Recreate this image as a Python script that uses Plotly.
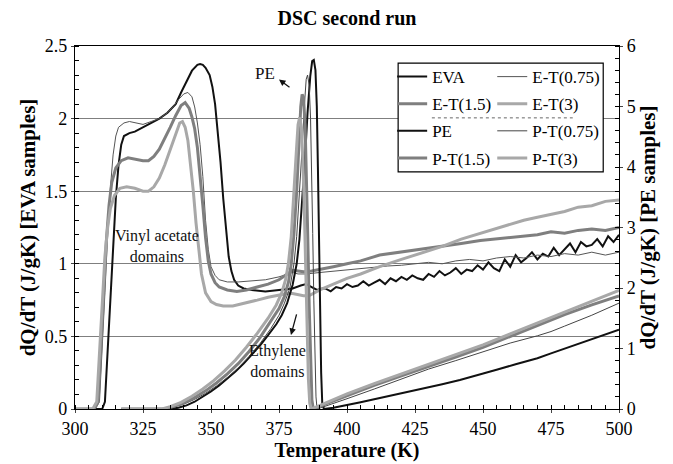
import plotly.graph_objects as go

# ---------------- data ----------------
# EVA family (left axis, J/gK)
eva_T = [300, 308, 310, 311, 312, 313, 314, 315, 316, 317, 318, 320, 322, 325, 328, 331, 334, 337, 339, 341,
         343, 345, 346, 347, 348, 349.5, 350.5, 351.5, 352.5, 353.5, 354.5, 355.5, 356.5, 357.5, 358.5, 360,
         362, 365, 370, 375, 380, 383, 385, 387, 389, 391,
         392, 394, 396, 398, 400, 402, 404, 406, 408, 410, 412, 414, 416, 418, 420, 422, 424, 426, 428, 430,
         432, 434, 436, 438, 440, 442, 444, 446, 448, 450, 452, 454, 456, 458, 460, 462, 464, 466, 468, 470,
         472, 474, 476, 478, 480, 482, 484, 486, 488, 490, 492, 494, 496, 498, 500]
eva_Y = [0, 0, 0, 0.05, 0.4, 0.8, 1.15, 1.45, 1.68, 1.82, 1.88, 1.9, 1.91, 1.94, 1.97, 2.0, 2.04, 2.1, 2.18, 2.26,
         2.33, 2.37, 2.375, 2.37, 2.35, 2.3, 2.22, 2.1, 1.92, 1.7, 1.45, 1.22, 1.05, 0.95, 0.89, 0.85,
         0.83, 0.82, 0.81, 0.82, 0.83, 0.85, 0.86, 0.84, 0.82, 0.83,
         0.83, 0.81, 0.84, 0.83, 0.86, 0.84, 0.85, 0.88, 0.85, 0.87, 0.89, 0.86, 0.90, 0.88, 0.91, 0.89, 0.92, 0.90, 0.89, 0.93,
         0.91, 0.95, 0.92, 0.94, 0.97, 0.93, 0.96, 0.95, 0.99, 0.96, 1.01, 0.97, 0.95, 1.03, 0.98, 1.06, 1.01, 1.04, 1.08, 1.03,
         1.07, 1.05, 1.11, 1.06, 1.10, 1.14, 1.08, 1.15, 1.12, 1.13, 1.17, 1.12, 1.19, 1.15, 1.20]

et075_T = [300, 307.5, 309, 310, 311, 312, 313, 314, 315, 316, 318, 320, 322, 325, 328, 331, 334, 336, 338, 340,
           341.5, 343, 344, 345, 346, 347, 348, 349, 350, 351.5, 353, 356, 360, 365, 370, 375, 378, 380, 382, 385,
           390, 395, 400, 405, 410, 415, 420, 425, 430, 435, 440, 445, 450, 455, 460, 465, 470, 475, 480, 485,
           490, 495, 500]
et075_Y = [0, 0, 0.05, 0.4, 0.8, 1.2, 1.52, 1.75, 1.88, 1.94, 1.97, 1.98, 1.97, 1.96, 1.98, 2.0, 2.04, 2.08, 2.13, 2.17,
           2.18, 2.15, 2.08, 1.97, 1.82, 1.6, 1.3, 1.1, 0.98, 0.92, 0.89, 0.875, 0.875, 0.88, 0.89, 0.91, 0.93, 0.94, 0.93, 0.93,
           0.94, 0.95, 0.96, 0.97, 0.98, 0.985, 0.99, 1.0, 1.01, 1.0, 1.02, 1.03, 1.02, 1.04, 1.05, 1.04, 1.06, 1.05, 1.07, 1.06,
           1.08, 1.06, 1.08]

et15_T = [300, 307, 308.5, 309.5, 310.5, 311.5, 312.5, 313.5, 315, 317, 319.5, 322, 325, 327, 329, 331, 333, 335,
          337, 339, 340.5, 342, 343, 344, 345, 346, 347, 348, 349, 350, 351.5, 353, 356, 359.5, 363, 367, 371,
          375, 378, 380, 382, 384, 387, 390, 395, 400, 405, 412, 420, 428, 435, 442, 449, 455, 460, 465, 470,
          475, 480, 485, 490, 495, 500]
et15_Y = [0, 0, 0.05, 0.4, 0.8, 1.15, 1.4, 1.56, 1.66, 1.71, 1.73, 1.72, 1.71, 1.71, 1.74, 1.79, 1.86, 1.94,
          2.02, 2.09, 2.11, 2.07, 2.01, 1.93, 1.8, 1.62, 1.4, 1.18, 1.02, 0.93, 0.87, 0.84, 0.82, 0.81, 0.82, 0.84, 0.86,
          0.89, 0.93, 0.955, 0.95, 0.945, 0.95, 0.96, 0.98, 1.0, 1.02, 1.06, 1.08, 1.1, 1.12, 1.14, 1.16, 1.17, 1.18, 1.19, 1.2,
          1.22, 1.21, 1.23, 1.24, 1.23, 1.25]

et3_T = [300, 306.5, 308, 309, 310, 311, 312, 313, 314.5, 316.5, 319, 322, 325, 327, 329, 331, 333, 335, 337,
         338.5, 339.5, 340.5, 341.5, 342.5, 343.5, 344.5, 345.5, 346.5, 348, 350, 352, 354.5, 358, 363, 367, 371,
         375, 378, 380, 382, 384, 386, 390, 395, 400, 405, 412, 420, 428, 435, 442, 449, 455, 460, 465, 470,
         475, 480, 485, 490, 495, 500]
et3_Y = [0, 0, 0.05, 0.4, 0.75, 1.05, 1.25, 1.38, 1.47, 1.52, 1.53, 1.52, 1.5, 1.5, 1.53, 1.59, 1.68, 1.79, 1.9,
         1.97, 1.98, 1.94, 1.85, 1.68, 1.5, 1.28, 1.08, 0.93, 0.8, 0.74, 0.72, 0.71, 0.71, 0.73, 0.75, 0.77,
         0.785, 0.795, 0.795, 0.785, 0.78, 0.78, 0.82, 0.86, 0.9, 0.93, 0.98, 1.03, 1.08, 1.12, 1.17, 1.21, 1.24, 1.27, 1.3, 1.32,
         1.34, 1.36, 1.39, 1.40, 1.43, 1.44]

# PE family (right axis, J/gK)
pe_T = [317, 335, 338, 341, 344, 347, 350, 353, 356, 359, 362, 365, 368, 371, 374, 376, 378, 380, 381.5, 382.5,
        383.5, 384.5, 385.5, 386.5, 387.2, 387.8, 388.4, 388.9, 389.3, 389.7, 390.1, 390.5, 390.9, 391.5,
        395, 400, 405, 410, 415, 420, 427, 435, 441.5, 449, 455, 462, 470, 475, 480, 486, 492, 500]
pe_Y = [0, 0, 0.02, 0.06, 0.12, 0.2, 0.29, 0.39, 0.5, 0.62, 0.75, 0.9, 1.05, 1.22, 1.4, 1.55, 1.75, 2.05, 2.4, 2.8,
        3.4, 4.1, 4.9, 5.5, 5.75, 5.77, 5.6, 5.0, 4.0, 2.8, 1.6, 0.6, 0.1, 0,
        0.02, 0.06, 0.11, 0.16, 0.21, 0.26, 0.32, 0.41, 0.48, 0.57, 0.65, 0.74, 0.84, 0.92, 1.0, 1.09, 1.18, 1.31]

pt075_T = [317, 333, 336, 340, 344, 348, 352, 356, 360, 364, 368, 372, 375, 377, 379, 380.5, 381.5, 382.5, 383.5,
           384.3, 385, 385.5, 386.1, 386.6, 387, 387.4, 387.8, 388.2, 388.6, 389, 391, 395, 400, 410, 420, 430,
           440, 450, 460, 470, 475, 480, 490, 500]
pt075_Y = [0, 0, 0.03, 0.08, 0.16, 0.26, 0.38, 0.52, 0.68, 0.87, 1.08, 1.33, 1.55, 1.75, 2.0, 2.4, 2.85, 3.5, 4.3,
           5.0, 5.45, 5.52, 5.35, 4.8, 4.0, 2.9, 1.8, 0.8, 0.2, 0, 0.03, 0.09, 0.17, 0.33, 0.5, 0.66,
           0.8, 0.94, 1.09, 1.21, 1.28, 1.37, 1.55, 1.75]

pt15_T = [317, 333, 336, 340, 344, 348, 352, 356, 360, 364, 368, 372, 375, 377, 378.5, 379.5, 380.5, 381.5,
          382.3, 383, 383.5, 384, 384.6, 385.1, 385.6, 386.1, 386.6, 387.1, 387.6, 389, 392, 400, 410, 420,
          430, 440, 450, 460, 470, 475, 480, 490, 500]
pt15_Y = [0, 0, 0.04, 0.1, 0.19, 0.3, 0.43, 0.58, 0.75, 0.95, 1.18, 1.45, 1.66, 1.86, 2.1, 2.4, 2.9, 3.6,
          4.4, 5.0, 5.2, 5.15, 4.7, 3.9, 2.8, 1.7, 0.7, 0.15, 0, 0.02, 0.08, 0.22, 0.39, 0.55,
          0.7, 0.86, 1.02, 1.2, 1.37, 1.46, 1.56, 1.72, 1.87]

pt3_T = [317, 332, 335, 339, 343, 347, 351, 355, 359, 363, 367, 371, 374, 376, 377.5, 378.5, 379.5, 380.5,
         381.3, 382, 382.6, 383.2, 383.8, 384.3, 384.8, 385.3, 385.8, 386.3, 386.8, 389, 392, 400, 410, 420,
         430, 440, 450, 460, 470, 475, 480, 490, 500]
pt3_Y = [0, 0, 0.04, 0.11, 0.21, 0.33, 0.47, 0.63, 0.81, 1.02, 1.25, 1.5, 1.72, 1.92, 2.15, 2.42, 2.85, 3.5,
         4.2, 4.7, 4.82, 4.65, 4.1, 3.3, 2.3, 1.3, 0.5, 0.1, 0, 0.04, 0.1, 0.25, 0.42, 0.58,
         0.73, 0.9, 1.06, 1.24, 1.42, 1.52, 1.61, 1.78, 1.96]

FONT = "Liberation Serif, Times New Roman, serif"

series = [
    # name, T, Y, axis, color, width, legend
    ("EVA", eva_T, eva_Y, "y", "#111111", 2, "legend"),
    ("E-T(0.75)", et075_T, et075_Y, "y", "#555555", 1, "legend2"),
    ("E-T(1.5)", et15_T, et15_Y, "y", "#7f7f7f", 3, "legend"),
    ("E-T(3)", et3_T, et3_Y, "y", "#a8a8a8", 3, "legend2"),
    ("PE", pe_T, pe_Y, "y2", "#111111", 2, "legend"),
    ("P-T(0.75)", pt075_T, pt075_Y, "y2", "#444444", 1, "legend2"),
    ("P-T(1.5)", pt15_T, pt15_Y, "y2", "#7f7f7f", 3, "legend"),
    ("P-T(3)", pt3_T, pt3_Y, "y2", "#a8a8a8", 3, "legend2"),
]

fig = go.Figure()
for i, (name, T, Y, ax, col, w, leg) in enumerate(series):
    fig.add_trace(go.Scatter(x=T, y=Y, name=name, mode="lines", yaxis=ax,
                             line=dict(color=col, width=w), legend=leg,
                             legendgroup=name))

axis_common = dict(showline=True, linecolor="black", linewidth=1.2, zeroline=False, automargin=False,
                   tickfont=dict(family=FONT, size=18, color="black"))

fig.update_layout(
    width=673, height=464,
    margin=dict(l=75, r=54, t=46, b=55),
    paper_bgcolor="white", plot_bgcolor="white",
    font=dict(family=FONT, color="black"),
    title=dict(text="<b>DSC second run</b>", x=0.5, xref="paper", y=1 - 18 / 464, yanchor="middle",
               font=dict(family=FONT, size=20, color="black")),
    xaxis=dict(range=[300, 500], dtick=25, tick0=300, ticks="outside", ticklen=3, mirror=True,
               showgrid=False,
               minor=dict(dtick=5, ticks="inside", ticklen=4, tickcolor="black"),
               title=dict(text="<b>Temperature (K)</b>", font=dict(family=FONT, size=20), standoff=2),
               **axis_common),
    yaxis=dict(range=[0, 2.5], dtick=0.5, ticks="outside", ticklen=3,
               showgrid=True, gridcolor="#7f7f7f", gridwidth=1,
               minor=dict(dtick=0.1, ticks="inside", ticklen=4, tickcolor="black", showgrid=False),
               title=dict(text="<b>dQ/dT (J/gK) [EVA samples]</b>", font=dict(family=FONT, size=21), standoff=3),
               **axis_common),
    yaxis2=dict(range=[0, 6], dtick=1, overlaying="y", side="right", ticks="outside", ticklen=3,
                showgrid=False,
                minor=dict(dtick=0.2, ticks="inside", ticklen=4, tickcolor="black"),
                title=dict(text="<b>dQ/dT (J/gK) [PE samples]</b>", font=dict(family=FONT, size=21), standoff=3),
                **axis_common),
    legend=dict(x=0.583, y=0.964, xanchor="left", yanchor="top", bgcolor="rgba(0,0,0,0)",
                font=dict(family=FONT, size=17), tracegroupgap=2, itemwidth=30),
    legend2=dict(x=0.767, y=0.964, xanchor="left", yanchor="top", bgcolor="rgba(0,0,0,0)",
                 font=dict(family=FONT, size=17), tracegroupgap=2, itemwidth=30),
    shapes=[
        dict(type="rect", xref="paper", yref="paper", x0=0.594, x1=0.971, y0=0.653, y1=0.953,
             line=dict(color="black", width=1.2), fillcolor="white", layer="above"),
        dict(type="line", xref="paper", yref="paper", x0=0.656, x1=0.915, y0=0.802, y1=0.802,
             line=dict(color="#666", width=1, dash="dot"), layer="above"),
    ],
    annotations=[
        dict(x=369.9, y=2.31, xref="x", yref="y", text="PE", showarrow=False,
             font=dict(family=FONT, size=17, color="#111")),
        dict(x=375, y=2.27, xref="x", yref="y", text="", showarrow=True, ax=12, ay=9,
             arrowhead=2, arrowsize=1, arrowwidth=1.3, arrowcolor="#111"),
        dict(x=330.1, y=1.12, xref="x", yref="y", text="Vinyl acetate<br>domains", showarrow=False,
             font=dict(family=FONT, size=16, color="#111")),
        dict(x=374.6, y=0.33, xref="x", yref="y", text="Ethylene<br>domains", showarrow=False,
             font=dict(family=FONT, size=16, color="#111")),
        dict(x=379.4, y=0.51, xref="x", yref="y", text="", showarrow=True, ax=6, ay=-22,
             arrowhead=2, arrowsize=1, arrowwidth=1.3, arrowcolor="#111"),
    ],
)

fig.write_html("out.html")
